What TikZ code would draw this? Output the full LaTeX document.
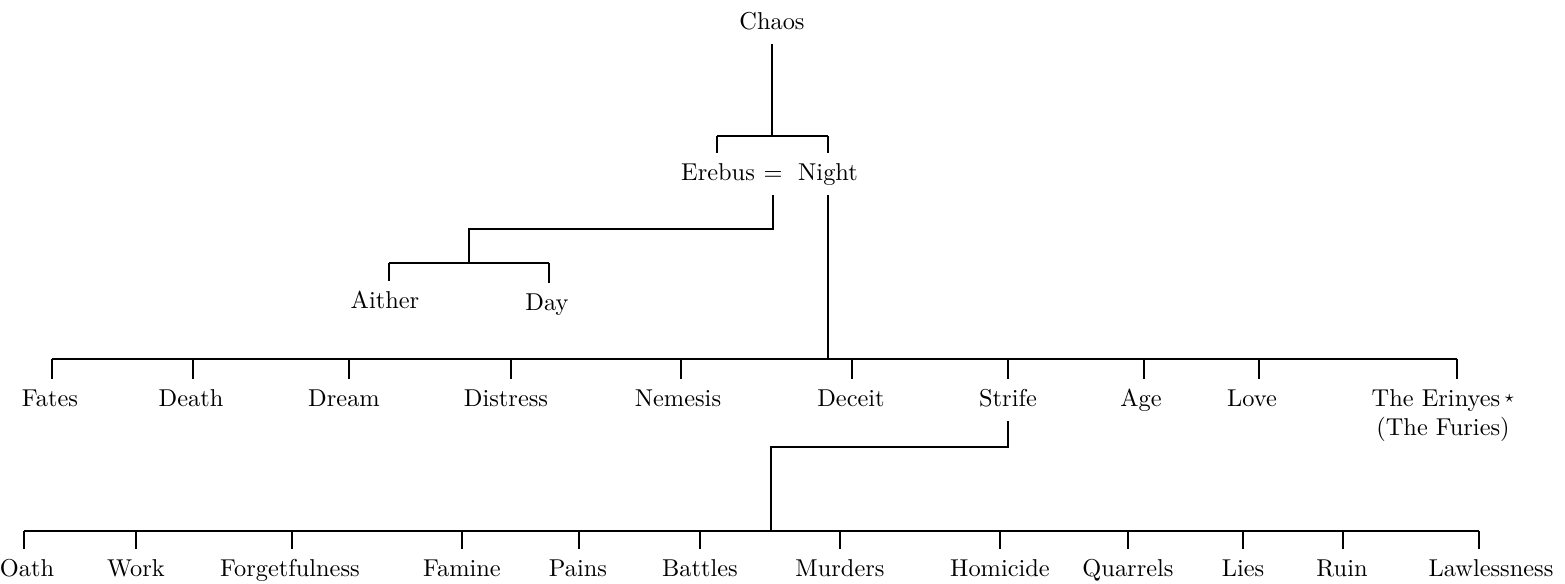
\documentclass[tikz,border=0pt]{standalone}
\begin{document}
\begin{tikzpicture}[x=0.41pt, y=-0.41pt, line width=0.8pt, god/.style={anchor=north, inner xsep=1pt, inner ysep=4pt, text height=1.6ex, text depth=0.4ex}]
\useasboundingbox (0,0) rectangle (1565,583);
\node[god] (gid0) at (772,2){Chaos};
\node[god] (gid1) at (718,153){Erebus};
\node[god] (gid2) at (773,153){$=$};
\node[god] (gid3) at (828,153){Night};
\coordinate (cid0) at (772,136);
\coordinate (cid1) at (717,136);
\coordinate (cid2) at (828,136);
\draw[](gid0.south) -- (cid0);
\draw[](cid1) -- (cid2);
\draw[](cid1) -- (cid1 |- gid1.north);
\draw[](cid2) -- (cid2 |- gid3.north);
\node[god] (gid4) at (385,281){Aither};
\node[god] (gid5) at (547,283){Day};
\coordinate (cid3) at (469,229);
\coordinate (cid4) at (469,263);
\coordinate (cid5) at (389,263);
\coordinate (cid6) at (549,263);
\draw[](gid2.south) |- (cid3) -- (cid4);
\draw[](cid5) -- (cid6);
\draw[](cid5) -- (cid5 |- gid4.north);
\draw[](cid6) -- (cid6 |- gid5.north);
\node[god] (gid6) at (50,379){Fates};
\node[god] (gid7) at (191,379){Death};
\node[god] (gid8) at (344,379){Dream};
\node[god] (gid9) at (506,379){Distress};
\node[god] (gid10) at (678,379){Nemesis};
\node[god] (gid11) at (851,379){Deceit};
\node[god] (gid12) at (1008,379){Strife};
\node[god] (gid13) at (1141,379){Age};
\node[god] (gid14) at (1252,379){Love};
\node[god, align=center, text height={}, text depth={}] (gid15) at (1443,379){The Erinyes\,\raisebox{.35ex}{$\scriptstyle\star$}\\(The Furies)};
\coordinate (cid7) at (828,359);
\coordinate (cid8) at (52,359);
\coordinate (cid9) at (193,359);
\coordinate (cid10) at (349,359);
\coordinate (cid11) at (511,359);
\coordinate (cid12) at (681,359);
\coordinate (cid13) at (852,359);
\coordinate (cid14) at (1008,359);
\coordinate (cid15) at (1144,359);
\coordinate (cid16) at (1259,359);
\coordinate (cid17) at (1457,359);
\draw[](gid3.south) -- (cid7);
\draw[](cid8) -- (cid17);
\draw[](cid8) -- (cid8 |- gid6.north);
\draw[](cid9) -- (cid9 |- gid7.north);
\draw[](cid10) -- (cid10 |- gid8.north);
\draw[](cid11) -- (cid11 |- gid9.north);
\draw[](cid12) -- (cid12 |- gid10.north);
\draw[](cid13) -- (cid13 |- gid11.north);
\draw[](cid14) -- (cid14 |- gid12.north);
\draw[](cid15) -- (cid15 |- gid13.north);
\draw[](cid16) -- (cid16 |- gid14.north);
\draw[](cid17) -- (cid17 |- gid15.north);
\node[god] (gid16) at (27,549){Oath};
\node[god] (gid17) at (136,549){Work};
\node[god] (gid18) at (290,549){Forgetfulness};
\node[god] (gid19) at (462,549){Famine};
\node[god] (gid20) at (578,549){Pains};
\node[god] (gid21) at (700,549){Battles};
\node[god] (gid22) at (840,549){Murders};
\node[god] (gid23) at (1000,549){Homicide};
\node[god] (gid24) at (1128,549){Quarrels};
\node[god] (gid25) at (1243,549){Lies};
\node[god] (gid26) at (1342,549){Ruin};
\node[god] (gid27) at (1491,549){Lawlessness};
\coordinate (cid18) at (771,447);
\coordinate (cid19) at (771,531);
\coordinate (cid20) at (24,531);
\coordinate (cid21) at (136,531);
\coordinate (cid22) at (292,531);
\coordinate (cid23) at (462,531);
\coordinate (cid24) at (579,531);
\coordinate (cid25) at (700,531);
\coordinate (cid26) at (840,531);
\coordinate (cid27) at (1000,531);
\coordinate (cid28) at (1128,531);
\coordinate (cid29) at (1243,531);
\coordinate (cid30) at (1343,531);
\coordinate (cid31) at (1479,531);
\draw[](gid12.south) |- (cid18) -- (cid19);
\draw[](cid20) -- (cid31);
\draw[](cid20) -- (cid20 |- gid16.north);
\draw[](cid21) -- (cid21 |- gid17.north);
\draw[](cid22) -- (cid22 |- gid18.north);
\draw[](cid23) -- (cid23 |- gid19.north);
\draw[](cid24) -- (cid24 |- gid20.north);
\draw[](cid25) -- (cid25 |- gid21.north);
\draw[](cid26) -- (cid26 |- gid22.north);
\draw[](cid27) -- (cid27 |- gid23.north);
\draw[](cid28) -- (cid28 |- gid24.north);
\draw[](cid29) -- (cid29 |- gid25.north);
\draw[](cid30) -- (cid30 |- gid26.north);
\draw[](cid31) -- (cid31 |- gid27.north);
\end{tikzpicture}
\end{document}
